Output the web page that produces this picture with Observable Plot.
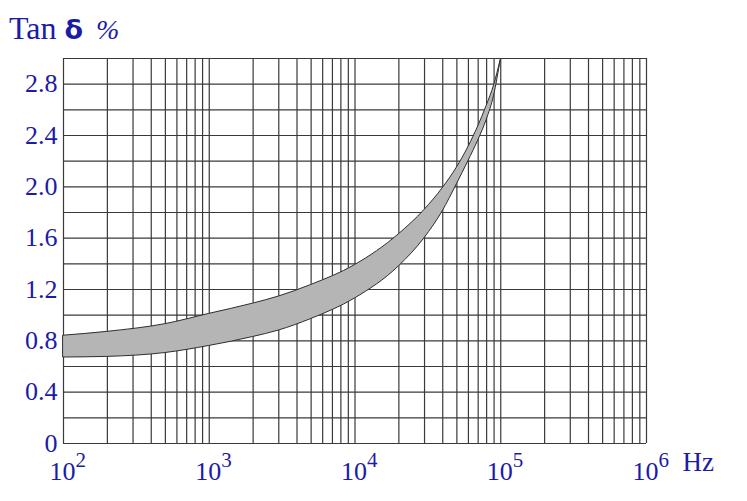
<!DOCTYPE html>
<html><head><meta charset="utf-8">
<script src="https://cdn.jsdelivr.net/npm/d3@7"></script>
<script src="https://cdn.jsdelivr.net/npm/@observablehq/plot@0.6"></script>
<style>
body{margin:0;background:#fff;}
#wrap{position:relative;width:747px;height:501px;}
#title{position:absolute;left:9px;top:10px;font-family:'Liberation Serif',serif;font-size:32px;color:#1b1ba8;white-space:nowrap;}
#title .d{font-family:'DejaVu Sans',sans-serif;font-weight:bold;font-size:27px;}
#title .p{font-size:28px;font-style:italic;margin-left:5px;}
</style></head><body>
<div id="wrap"><div id="title">Tan <span class="d">δ</span> <span class="p">%</span></div></div>
<script>
// Frequency (Hz) and the band's upper/lower tan δ (%) bounds
const freq  = [100, 200, 500, 1000, 2000, 3000, 5000, 10000, 20000, 30000, 40000, 50000, 60000, 70000, 80000, 90000, 100000];
const upper = [0.84, 0.87, 0.93, 1.01, 1.09, 1.145, 1.235, 1.39, 1.63, 1.82, 1.99, 2.15, 2.31, 2.47, 2.63, 2.79, 2.99];
const lower = [0.67, 0.675, 0.705, 0.76, 0.83, 0.88, 0.97, 1.13, 1.38, 1.60, 1.81, 2.02, 2.20, 2.36, 2.52, 2.71, 2.99];

const yTicks = [0, 0.4, 0.8, 1.2, 1.6, 2.0, 2.4, 2.8];
const xTicks = [1e2, 1e3, 1e4, 1e5, 1e6];
const xExponents = ["2", "3", "4", "5", "6"];
const yGrid = [0, 0.2, 0.4, 0.6, 0.8, 1.0, 1.2, 1.4, 1.6, 1.8, 2.0, 2.2, 2.4, 2.6, 2.8, 3.0];
const decades = [1e2, 1e3, 1e4, 1e5];
const mantissas = [1, 2, 3, 4, 5, 6, 7, 8, 9];

const xGrid = decades.flatMap(d => mantissas.map(m => m * d)).concat([1e6]);
const rows = freq.map((f, i) => ({f, hi: upper[i], lo: lower[i]}));

const blue = "#1b1ba8";
const gridColor = "#3a3a3a";

const chart = Plot.plot({
  width: 747,
  height: 501,
  marginLeft: 63,
  marginRight: 101,
  marginTop: 58,
  marginBottom: 58,
  x: {type: "log", domain: [1e2, 1e6]},
  y: {domain: [0, 3]},
  style: {fontFamily: "'Liberation Serif', serif", fontSize: "26px", color: blue, background: "#fff"},
  marks: [
    Plot.ruleX(xGrid, {stroke: gridColor, strokeWidth: 1.2}),
    Plot.ruleY(yGrid, {stroke: gridColor, strokeWidth: 1.2}),
    Plot.areaY(rows, {x: "f", y1: "lo", y2: "hi", fill: "#b5b5b5", stroke: "#2e2e2e", strokeWidth: 1, curve: "monotone-x"}),
    Plot.axisY(yTicks, {tickSize: 0, tickPadding: 6, label: null, tickFormat: d => d === 0 ? "0" : d.toFixed(1)}),
    Plot.axisX(xTicks, {tickSize: 0, tickPadding: 18, label: null, textAnchor: "start", dx: -14,
      tickFormat: d => "10^" + xExponents[xTicks.indexOf(d)]}),
    Plot.text(["Hz"], {frameAnchor: "bottom-right", textAnchor: "start", dx: 36, dy: 27, fill: blue, fontSize: 27})
  ]
});

// render exponents as raised superscripts
d3.select(chart).selectAll('g[aria-label="x-axis tick label"] text').each(function() {
  const t = this.textContent;
  if (!t.includes("^")) return;
  const [base, exp] = t.split("^");
  const sel = d3.select(this);
  sel.text(base);
  sel.append("tspan").attr("font-size", 21).attr("dy", -13).text(exp);
});

document.getElementById("wrap").prepend(chart);
</script>
</body></html>
